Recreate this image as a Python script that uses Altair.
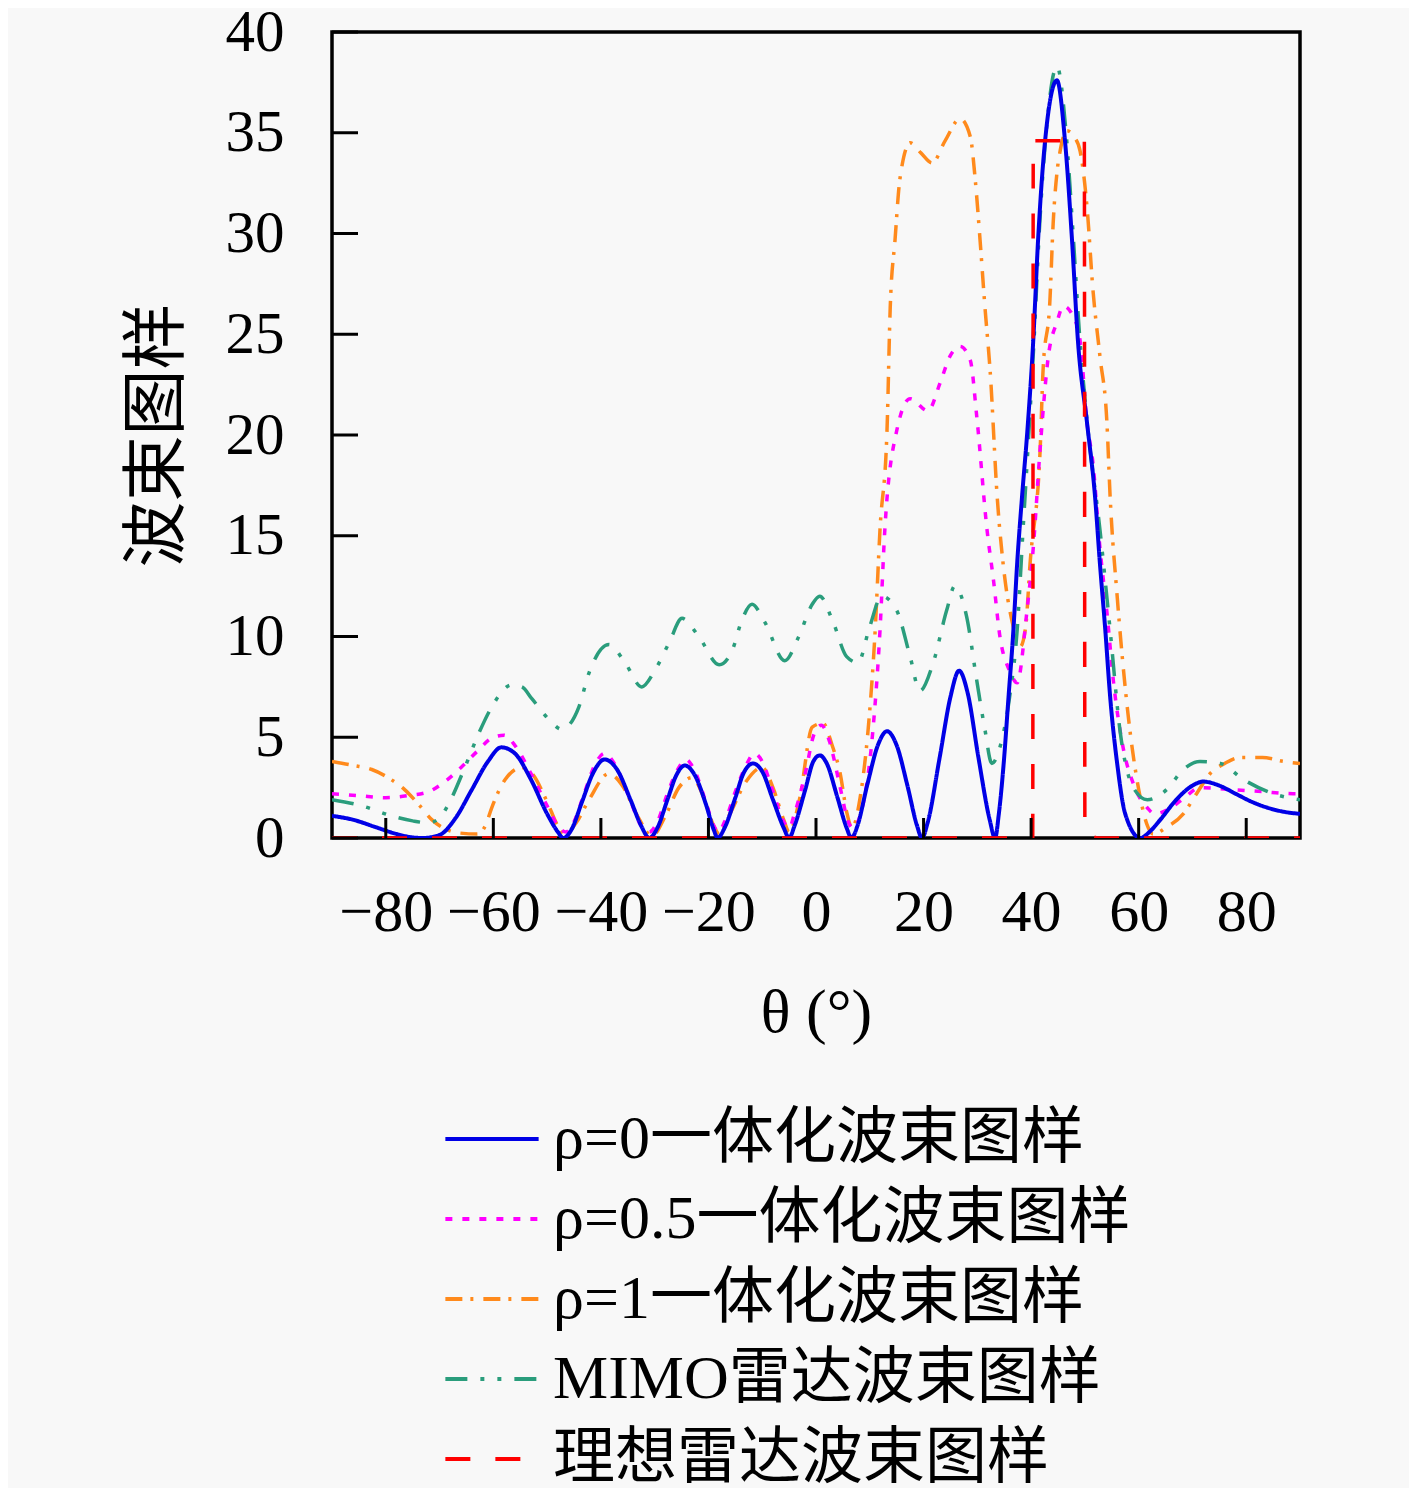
import altair as alt
import pandas as pd

# ---------------- data ----------------
series_names = ["ρ=0一体化波束图样", "ρ=0.5一体化波束图样", "ρ=1一体化波束图样",
                "MIMO雷达波束图样", "理想雷达波束图样"]
series_colors = ["#0000e6", "#ff00ff", "#ff8a1c", "#2a9d7c", "#ff0000"]
series_dashes = [[1, 0], [7, 10], [17, 8, 3, 10], [22, 13, 4, 13, 4, 13], [25, 25]]

rho0_x = [-90, -86, -82, -78, -75, -73, -70, -67, -64, -61, -58.5, -56, -53, -50, -48, -47,
          -45.5, -43.5, -41.5, -39.3, -37, -34.5, -32.5, -31, -29.5, -27.5, -26, -24.4, -22.5,
          -20.5, -19, -18.3, -17, -15, -13.5, -11.7, -10, -8, -6, -5, -4, -2, -0.5, 0.7, 2, 4,
          5.7, 6.6, 7.7, 9.5, 11.5, 13.2, 15, 17, 18.8, 19.7, 20.8, 23, 25, 26.6, 28.2, 30.2,
          32.3, 33.3, 34.0, 34.9, 35.8, 36.7, 37.4, 38.3, 39.3, 40.4, 41.3, 42.6, 44.8, 46.3,
          47.6, 48.7, 50.4, 51.9, 52.8, 53.8, 54.7, 56, 57.5, 60.3, 62, 64, 67, 70, 72, 75, 78,
          81, 84, 87, 90]
rho0_y = [1.1, 0.9, 0.55, 0.2, 0.03, 0.0, 0.15, 1.0, 2.4, 3.8, 4.5, 4.2, 2.9, 1.2, 0.3, 0.0,
          0.4, 1.8, 3.2, 3.9, 3.4, 1.9, 0.6, 0.0, 0.5, 2.0, 3.1, 3.6, 3.1,
          1.7, 0.4, 0.0, 0.5, 2.0, 3.2, 3.7, 3.3, 1.9, 0.5, 0.0, 0.6, 2.4, 3.8, 4.1, 3.7, 2.0,
          0.5, 0.0, 0.6, 2.6, 4.6, 5.3, 4.6, 2.6, 0.6, 0.0, 0.8, 4.0, 7.0, 8.3, 7.2, 4.0,
          0.9, 0.0, 1.2, 3.7, 7.0, 10.3, 13.6, 16.9, 20.2, 24.7, 29.7, 34.6, 37.6, 34.6,
          29.7, 24.7, 20.6, 16.9, 13.6, 10.3, 7.0, 3.7, 1.2, 0.0, 0.3, 0.9, 1.9, 2.6, 2.8, 2.6, 2.2,
          1.8, 1.5, 1.3, 1.2]

rho05_x = [-90, -85, -80, -76, -72, -69, -66, -63, -60, -58, -56, -53, -50, -48, -46.5, -45,
           -43, -41, -39.3, -37.5, -35, -32.5, -31, -29.5, -27.5, -25.5, -24.2, -22.5, -20.5,
           -19, -18.2, -17, -15, -13, -11.5, -10, -8, -6, -5, -4, -2, -0.3, 1, 2.5, 4.5, 6,
           6.8, 9, 10.6, 11.9, 12.8, 15, 17.5, 20.8, 23.1, 24.9, 26.8, 28.7, 29.9, 31.8, 33,
           34.2, 36, 37.4, 39.2, 40.4, 41.7, 43.2, 44.8, 46, 47.8, 49.1, 50.4, 51.5, 52.8,
           54.1, 55.3, 57.1, 59, 61.6, 63, 66, 68.5, 71.4, 77.6, 83, 88.7, 90]
rho05_y = [2.2, 2.1, 2.0, 2.1, 2.3, 2.8, 3.5, 4.3, 5.0, 5.1, 4.6, 3.2, 1.6, 0.6, 0.3, 0.8,
           2.3, 3.7, 4.2, 3.7, 2.2, 0.6, 0.3, 0.8, 2.3, 3.5, 3.9, 3.3, 1.8,
           0.6, 0.3, 0.8, 2.3, 3.6, 4.2, 3.8, 2.3, 0.8, 0.5, 1.2, 3.2, 5.2, 5.6, 4.8, 2.5, 0.8,
           0.5, 2.0, 5.4, 10.3, 15.3, 20.2, 21.8, 21.2, 22.6, 23.9, 24.4, 23.7, 20.9, 15.3, 12.8,
           10.0, 8.3, 7.7, 11.2, 14.4, 19.4, 23.9, 25.6, 26.4, 25.9, 24.7, 20.6, 18.6, 14.4,
           11.2, 7.8, 4.5, 2.7, 1.5, 1.2, 1.5, 2.0, 2.5, 2.4, 2.3, 2.2, 2.2]

rho1_x = [-90, -86, -82.6, -79, -76.5, -74, -71.4, -68.5, -66.4, -63, -61.5, -60.3, -57.8,
          -54.7, -52.8, -50, -48, -46.7, -44.5, -42.2, -38.5, -36, -33, -30.5, -28, -25.5, -23,
          -21, -19, -18, -16, -13, -10, -8, -6, -5, -3, -0.7, 1.3, 3, 4.5, 5.7, 6.7, 8.2, 9.7,
          11, 11.9, 13.2, 13.8, 14.7, 15.6, 17.5, 19.5, 21.6, 24, 26.8, 28.7, 29.6, 30.5, 31.4,
          32.4, 33.7, 34.8, 36.5, 38, 39, 39.8, 41.7, 42.2, 43.5, 44.1, 44.8, 45.4, 46.7, 48,
          49.1, 50.4, 51.5, 52.8, 54.1, 54.7, 56, 58, 60.3, 61.5, 62.7, 65, 68.3, 71, 73.3, 76,
          78.9, 83, 86.9, 90]
rho1_y = [3.8, 3.6, 3.4, 2.9, 2.4, 1.7, 0.9, 0.4, 0.25, 0.2, 0.6, 1.5, 2.9,
          3.5, 3.2, 1.8, 0.6, 0.2, 0.8, 1.9, 3.2, 2.6, 1.0, 0.1, 1.1, 2.5, 3.0,
          2.1, 0.6, 0.2, 1.2, 2.8, 3.5, 2.5, 0.9, 0.3, 2.0, 5.5, 5.7, 4.6, 3.2, 1.3, 0.5, 2.0, 5.4,
          10.3, 15.3, 20.2, 26.3, 29.7, 32.7, 34.5, 34.0, 33.5, 34.6, 35.7, 34.8, 32.7, 29.7, 26.4,
          23.1, 16.9, 13.6, 10.7, 9.5, 10.5, 13.6, 19.4, 23.1, 26.7, 30.5, 33.0, 34.1, 35.1, 34.8,
          34.1, 31.3, 27.2, 23.9, 20.6, 16.9, 12.0, 6.2, 2.0, 0.7, 0.2, 0.5, 1.2, 2.3, 3.2, 3.7,
          4.0, 4.0, 3.8, 3.7]

mimo_x = [-90, -84.5, -78.9, -75, -72, -70, -68.3, -65.3, -62.7, -60.3, -56.6, -54.7, -52.8,
          -49.7, -47.3, -44.1, -42.2, -38.5, -35.5, -32.4, -30, -27.3, -24.9, -21.8, -18,
          -15.6, -13.8, -11.9, -9.5, -5.8, -3.2, -0.7, 0.7, 3.2, 5.7, 7.8, 10, 12.2, 15, 17.5,
          19.3, 21.8, 24.3, 25.8, 28, 29.9, 31.4, 32.7, 34.2, 36, 37.4, 38.5, 39.6, 40.6, 41.5,
          42.8, 44.8, 46.5, 47.8, 49, 50.6, 52.8, 54.7, 56.5, 59, 61.6, 65.2, 68.3, 71.4, 75.2,
          79.5, 85, 90]
mimo_y = [1.9, 1.6, 1.1, 0.85, 0.75, 1.0, 1.7, 3.5, 5.2, 6.5, 7.6, 7.5, 6.9,
          5.9, 5.4, 6.5, 8.2, 9.6, 8.7, 7.5, 8.3, 9.7, 10.9, 10.0, 8.6,
          9.3, 10.8, 11.6, 10.7, 8.8, 10.0, 11.6, 12.0, 10.7, 9.0, 8.7, 10.5, 12.0, 11.3, 9.0,
          7.3, 8.7, 11.3, 12.5, 11.0, 7.8, 5.4, 3.7, 4.5, 7.0, 10.3, 15.3, 20.2, 25.0, 30.0,
          35.0, 38.3, 35.0, 30.0, 25.0, 20.2, 15.3, 10.3, 5.4, 2.5, 1.9, 2.4, 3.4, 3.8, 3.7,
          2.9, 2.2, 1.9]

ideal_x = [-90, 40.3, 40.4, 49.9, 50.0, 52.5, 90]
ideal_y = [0, 0, 34.6, 34.6, 0.4, 0, 0]

x_ticks = [-80, -60, -40, -20, 0, 20, 40, 60, 80]
y_ticks = [0, 5, 10, 15, 20, 25, 30, 35, 40]

# ---------------- build table ----------------
frames = []
for name, xs, ys in zip(series_names,
                        [rho0_x, rho05_x, rho1_x, mimo_x, ideal_x],
                        [rho0_y, rho05_y, rho1_y, mimo_y, ideal_y]):
    frames.append(pd.DataFrame({"theta": xs, "value": ys, "series": name}))
df = pd.concat(frames, ignore_index=True)

W, H = 968, 806
SERIF = "Liberation Serif, Noto Sans CJK SC"

xscale = alt.Scale(domain=[-90, 90], nice=False, zero=False)
yscale = alt.Scale(domain=[0, 40], nice=False)
color_scale = alt.Scale(domain=series_names, range=series_colors)
dash_scale = alt.Scale(domain=series_names, range=series_dashes)

legend = alt.Legend(
    title=None, orient="none", legendX=111, legendY=1058,
    symbolType="stroke", symbolSize=8700, symbolStrokeWidth=4,
    labelFont=SERIF, labelFontSize=62, labelLimit=1000, labelColor="black",
    rowPadding=0, labelOffset=12, symbolOffset=0,
)

base = alt.Chart(df).encode(
    x=alt.X("theta:Q", scale=xscale,
            axis=alt.Axis(title="θ (°)", values=x_ticks, ticks=False, domain=False, grid=False,
                          labelFont=SERIF, labelFontSize=60, labelColor="black",
                          labelPadding=45, titleFont=SERIF, titleFontSize=62,
                          titleFontWeight="normal", titlePadding=40, titleColor="black")),
    y=alt.Y("value:Q", scale=yscale,
            axis=alt.Axis(title="波束图样", values=y_ticks, ticks=False, domain=False, grid=False,
                          labelFont=SERIF, labelFontSize=59, labelColor="black",
                          labelPadding=48, titleFont=SERIF, titleFontSize=66,
                          titleFontWeight="normal", titlePadding=34, titleColor="black")),
    color=alt.Color("series:N", scale=color_scale, legend=legend),
    strokeDash=alt.StrokeDash("series:N", scale=dash_scale, legend=legend),
)

draw_order = [2, 1, 3, 0, 4]
widths = [4, 3.5, 3.5, 3.5, 3.5]
layers = []
for i in draw_order:
    layers.append(
        base.transform_filter(alt.datum.series == series_names[i])
        .mark_line(interpolate="monotone", strokeWidth=widths[i], clip=True)
    )

xt = alt.Chart(pd.DataFrame({"t": x_ticks})).mark_rule(color="black", strokeWidth=3).encode(
    x=alt.X("t:Q", scale=xscale), y=alt.value(H), y2=alt.value(H - 20))
yt = alt.Chart(pd.DataFrame({"t": y_ticks})).mark_rule(color="black", strokeWidth=3).encode(
    y=alt.Y("t:Q", scale=yscale), x=alt.value(0), x2=alt.value(26))

chart = alt.layer(*layers, xt, yt).properties(
    width=W, height=H,
    autosize=alt.AutoSizeParams(type="none"),
    padding={"left": 324, "top": 24, "right": 109, "bottom": 650},
    background="#f8f8f8",
).configure_view(stroke="black", strokeWidth=3.5)

chart.save("out.html", embed_options={"renderer": "svg", "actions": False})
